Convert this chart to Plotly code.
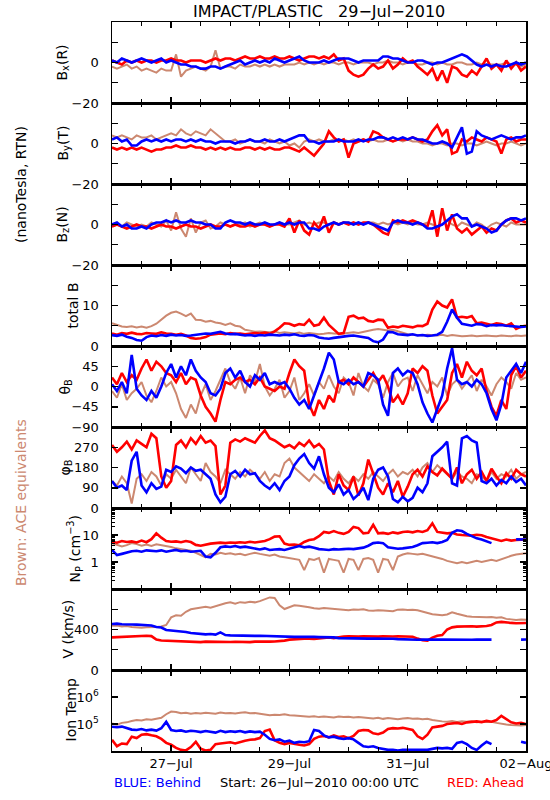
import plotly.graph_objects as go
import pandas as pd

# ---------------- time axis (2-hour samples, 26-Jul-2010 00:00 .. 02-Aug-2010 00:00)
HOURS = list(range(0, 169, 2))
START = pd.Timestamp("2010-07-26 00:00")
END = pd.Timestamp("2010-08-02 00:00")
times = [START + pd.Timedelta(hours=h) for h in HOURS]

# ---------------- Bx (R), nT
bx_behind = [1, 0, 2, 1, 0, 1, 2, 1, 0, 1, 2, 0,
             1, 0, -1, -1, -2, -2, -3, -3, -2, -2, -3, -2,
             -1, 0, 1, -1, 0, 1, 0, 1, 0, 2, 1, 0,
             1, 2, 3, 1, 0, 0, 0, 1, 0, 1, 2, 2,
             2, 1, 0, 1, 1, 1, 1, 3, 3, 2, 2, 1,
             0, 0, 1, 1, 0, -1, 0, 0, 1, 2, 3, 4,
             3, 1, -1, -2, -1, -2, -1, -2, -2, -1, 0, -1,
             0]
bx_ahead = [1, 0, -1, 1, 0, 1, 0, 1, 1, 0, 1, 1,
            2, 1, 1, 0, 1, 1, 1, 0, 1, 2, 1, 2,
            2, 1, 2, 3, 2, 2, 3, 2, 2, 3, 2, 2,
            3, 2, 1, 2, 3, 3, 2, 3, 2, 4, 1, 2,
            -4, -6, -7, -6, -3, -1, -3, -2, 1, -3, -1, 2,
            0, 1, -2, -4, -6, -3, -9, -4, -10, -2, -3, -6,
            -7, -4, -6, -2, 2, -3, -1, -4, 1, -3, 0, -4,
            -2]
bx_ace = [-2, -3, -2, -1, -3, -2, -4, -3, -4, -5, -3, -4,
          -4, 4, -7, -4, -3, -2, -3, -4, -2, 6, -3, -2,
          -2, -3, -1, -2, -2, -1, -2, -1, -2, -1, -2, -1,
          -1, -1, 0, -1, 0, -1, 0, -1, 0, 0, -1, 0,
          0, -1, 0, 0, 0, -1, 0, 0, 1, 0, 0, -1,
          0, 0, -1, -1, 0, 0, -1, 0, -1, -1, 0, 0,
          -1, -1, 0, -1, -1, -1, -1, -1, 0, -1, -1, -2,
          -1]

# ---------------- By (T), nT
by_behind = [2, 3, 1, 2, -1, -1, 1, 2, 1, 2, 1, 2,
             1, 2, 2, 1, 2, 1, 2, 1, 1, 0, 1, 1,
             1, 0, 1, 1, 2, 1, 1, 2, 1, 1, 2, 1,
             2, 3, 4, 4, 1, 1, 0, 1, 1, 1, 2, 1,
             1, 1, 2, 1, 2, 2, 3, 3, 2, 3, 2, 3,
             2, 3, 2, 2, 1, 0, 0, 1, 0, -2, 3, 8,
             -5, -4, 6, 4, 3, 2, 3, 4, 3, 2, 3, 3,
             4]
by_ahead = [-2, -3, -2, -3, -2, -3, -2, -3, -4, -3, -3, -2,
            -2, -1, -2, -2, -1, -2, -2, -3, -2, -3, -2, -3,
            -2, -3, -3, -2, -2, -3, -2, -3, -2, -3, -3, -2,
            -2, -3, -4, -2, -4, -6, -3, 0, 6, 3, 1, 2,
            -7, 0, 1, 2, 1, 6, 5, 3, 2, 1, 2, 2,
            2, 3, 2, 1, 2, 6, 9, 4, 7, -5, -4, 2,
            1, 3, 2, 1, 3, 2, 1, -5, 2, 3, 1, 2,
            2]
by_ace = [4, 3, 4, 3, 2, 4, 3, 3, 4, 2, 3, 4,
          5, 4, 7, 5, 4, 6, 5, 4, 7, 5, 3, 1,
          1, 2, 0, 1, 2, 1, 1, 0, 2, 1, 0, 1,
          -1, 0, -2, 1, 2, 1, 2, 1, 1, 2, 1, 2,
          1, 2, 1, 2, 1, 2, 1, 1, 2, 1, 2, 1,
          2, 1, 1, 0, 0, -1, 0, 0, -1, 0, 0, -1,
          0, 0, -1, 0, 1, 0, -1, 0, 0, 1, 0, -1,
          0]

# ---------------- Bz (N), nT
bz_behind = [0, 1, -1, 0, -2, -2, -1, -2, 0, 1, 1, 2,
             1, 2, 1, 1, 2, 1, 1, 0, 0, -2, -2, 1,
             2, 1, 1, 0, 1, 0, 0, 1, 0, 0, 1, 0,
             1, 0, 1, 1, -2, -2, -3, -1, 0, 1, 0, 1,
             1, 0, 1, 0, 1, 0, -1, -2, -3, 1, 2, 1,
             1, 0, 1, 0, -2, -2, -1, 0, 2, 4, 5, 3,
             3, -1, 0, -1, -2, -4, -3, 0, 2, 3, 3, 2,
             3]
bz_ahead = [-1, 0, -1, -2, -1, 0, -1, -1, -2, -1, 0, -1,
            -1, -2, -1, 0, -1, -1, -2, -1, 0, -1, -1, 0,
            -1, 0, -1, -1, 0, -1, 0, 0, -1, 0, 0, -1,
            3, -4, 2, -3, -5, 1, -2, 4, -4, 1, 0, 1,
            0, 1, 0, 1, 1, 0, -2, -4, -5, 2, 1, 2,
            1, 2, 1, 0, -1, 7, -6, 8, -3, 5, -2, -4,
            -2, -5, -3, -1, -4, -2, -3, 0, 2, 3, 1, 2,
            1]
bz_ace = [-1, 0, -1, 1, 0, -1, 0, -1, 1, 0, -1, 2,
          -3, 6, -2, -6, 3, -4, 1, 2, -2, -1, 1, 0,
          -1, 0, 0, 1, -1, 0, 1, 0, -1, 0, 1, 0,
          0, 1, 2, 0, 1, 0, 1, 1, 0, 1, 0, 1,
          1, 0, 1, 0, 1, 1, 0, 1, 0, 1, 0, 1,
          0, 1, 0, 0, 1, 0, -1, 0, 2, 0, -1, 1,
          0, -1, 1, 0, -2, 0, 1, 0, -1, 1, 0, 0,
          0]

# ---------------- total B, nT
bt_behind = [2.7, 2.5, 2.8, 2.3, 2.0, 1.5, 1.3, 2.2, 2.6, 2.4, 2.7, 2.5,
             2.8, 2.6, 2.7, 2.5, 2.6, 2.8, 2.9, 3.1, 3.0, 3.2, 3.5, 3.1,
             2.9, 3.0, 2.8, 2.6, 2.7, 2.5, 2.7, 2.6, 2.8, 2.7, 2.6, 2.8,
             2.7, 2.9, 2.6, 2.5, 2.7, 2.6, 2.1, 1.9, 1.8, 2.0, 2.2, 2.4,
             2.5, 2.6, 2.4, 2.3, 2.0, 1.2, 0.9, 1.6, 3.5, 3.4, 2.9, 2.8,
             2.7, 2.9, 2.6, 2.7, 2.5, 2.6, 2.8, 3.5, 6.0, 9.0, 7.0, 5.5,
             5.2, 5.0, 5.4, 5.3, 4.9, 5.2, 5.1, 5.2, 5.0, 4.9, 4.8, 4.7,
             4.8]
bt_ahead = [3.1, 2.8, 3.2, 3.0, 3.3, 3.0, 2.9, 3.2, 3.1, 3.0, 3.4, 3.1,
            3.0, 2.8, 3.0, 2.6, 2.0, 1.8, 1.9, 2.2, 2.8, 3.0, 3.1, 2.9,
            3.2, 3.0, 3.1, 2.9, 3.0, 3.2, 3.1, 3.3, 3.0, 3.6, 4.5, 5.6,
            5.5, 5.0, 5.4, 5.2, 6.5, 5.0, 5.3, 7.0, 5.2, 4.0, 3.0, 3.2,
            7.2, 7.5, 6.8, 7.0, 6.2, 6.0, 6.5, 6.4, 4.5, 4.8, 4.6, 5.0,
            4.8, 4.6, 5.0, 4.9, 5.5, 9.0, 11.0, 10.0, 9.5, 11.5, 7.0, 7.2,
            7.0, 7.4, 5.6, 5.8, 5.5, 5.2, 5.6, 5.4, 5.0, 5.6, 4.2, 4.8,
            5.0]
bt_ace = [5.6, 5.2, 4.8, 4.7, 4.9, 4.6, 4.8, 4.5, 4.9, 5.5, 6.5, 7.5,
          8.2, 8.5, 8.0, 7.4, 8.0, 6.5, 6.4, 6.0, 6.2, 5.8, 5.6, 5.2,
          5.6, 5.0, 4.8, 4.0, 3.8, 3.5, 3.6, 3.5, 3.4, 3.6, 3.2, 3.4,
          3.2, 3.1, 3.3, 3.0, 3.2, 3.1, 2.9, 3.0, 3.2, 3.1, 3.0, 3.1,
          3.2, 3.4, 3.2, 3.5, 3.8, 4.0, 4.2, 4.0, 3.8, 4.0, 3.6, 3.2,
          2.9, 2.8, 2.7, 2.6, 2.8, 2.7, 2.6, 2.8, 2.5, 2.7, 2.6, 2.4,
          2.5, 2.6, 2.4, 2.5, 2.6, 2.5, 2.4, 2.6, 2.5, 2.4, 2.6, 2.5,
          2.6]

# ---------------- theta_B, degrees
th_behind = [5, -10, 10, -15, 70, -5, -20, -30, -10, -25, 0, 30,
             50, 20, 45, 25, 60, 35, 20, 10, -15, -20, -5, 30,
             40, 20, 35, 10, 0, 25, 15, 30, 5, 10, 5, 10,
             -5, -25, -40, -30, -50, -20, 10, 40, 75, 60, 10, 5,
             15, 5, 10, 0, 30, 25, 15, -40, -65, 30, 40, 25,
             35, 30, 5, -35, -60, -80, -50, -20, 40, 85, 15, 5,
             10, 0, 15, 5, -15, -50, -75, -40, 20, 35, 50, 30,
             55]
th_ahead = [20, 5, 30, 10, 25, 15, 40, 60, 35, 55, 45, 30,
            25, 10, 30, 5, 20, 15, -20, -45, -60, -78, -30, 10,
            5, 15, 20, 10, 15, 5, 20, 0, -5, -10, 0, -5,
            30, 60, 45, 35, -40, -65, -30, -50, -20, -35, 10, 15,
            5, 20, 10, 0, 15, 30, 10, 25, 0, -35, -20, -40,
            -15, 40, 30, 45, 35, -20, -60, -45, -30, 30, 50, 20,
            55, 35, 25, 40, -10, -45, -65, -30, -50, 25, 45, 20,
            35]
th_ace = [-10, -25, 5, -30, -15, -5, 10, -20, -35, -10, 20, 0,
          10, -15, -50, -70, -40, -60, -20, 5, -30, -10, 15, 40,
          10, -5, 20, -15, 25, 10, 50, 0, -20, -5, 15, -25,
          -10, 20, -30, -15, 5, -20, 10, -5, 25, 0, -15, 20,
          10, -20, 30, 0, -10, 15, 5, -25, 10, 30, 0, 15,
          20, -10, 25, 5, -15, 10, 0, 20, -20, 5, 15, -5,
          10, 25, -10, 15, 0, -20, 5, 20, 10, -5, 30, 15,
          20]

# ---------------- phi_B, degrees
ph_behind = [120, 90, 100, 80, 210, 250, 100, 70, 110, 85, 95, 170,
             160, 185, 175, 155, 180, 165, 170, 150, 130, 60, 25, 50,
             150, 165, 140, 170, 150, 155, 120, 100, 85, 110, 80, 120,
             140, 190, 220, 240, 200, 175, 230, 150, 90, 70, 105, 60,
             80, 40, 60, 90, 35, 130, 170, 180, 140, 40, 25, 50,
             30, 45, 90, 70, 110, 230, 250, 270, 295, 110, 100, 310,
             320, 300, 290, 120, 110, 130, 100, 125, 110, 140, 115, 130,
             100]
ph_ahead = [280, 250, 270, 295, 260, 300, 285, 270, 330, 310, 140, 90,
            120, 280, 300, 270, 310, 285, 320, 290, 300, 275, 60, 100,
            290, 305, 295, 310, 300, 290, 320, 345, 310, 300, 285, 270,
            280, 265, 290, 275, 300, 270, 285, 260, 120, 60, 150, 100,
            80, 140, 55, 110, 215, 150, 90, 60, 110, 70, 120, 50,
            95, 150, 170, 140, 185, 160, 145, 175, 150, 130, 180, 110,
            150, 170, 130, 160, 120, 175, 140, 110, 155, 130, 170, 150,
            140]
ph_ace = [120, 100, 140, 110, 20, 130, 150, 120, 160, 140, 100, 150,
          130, 170, 140, 110, 180, 150, 120, 200, 160, 140, 110, 170,
          150, 130, 160, 140, 170, 150, 130, 160, 120, 150, 140, 200,
          220, 180, 160, 140, 120, 150, 130, 110, 140, 120, 160, 130,
          110, 140, 120, 150, 130, 160, 140, 120, 150, 170, 140, 160,
          150, 170, 140, 180, 200, 160, 190, 170, 150, 130, 160, 140,
          130, 110, 150, 140, 120, 160, 130, 150, 140, 170, 130, 150,
          160]

# ---------------- proton density, cm^-3
np_behind = [2.8, 1.8, 2.0, 2.3, 2.5, 2.6, 2.4, 2.7, 2.6, 2.5, 2.7, 2.4,
             2.6, 2.8, 2.5, 2.6, 2.4, 2.5, 2.6, 1.6, 1.5, 2.2, 3.5, 3.8,
             3.6, 3.9, 3.5, 3.7, 3.4, 3.0, 2.9, 3.2, 2.8, 2.9, 3.0, 2.8,
             3.1, 3.6, 3.9, 3.5, 3.7, 3.4, 3.0, 2.9, 2.8, 3.0, 2.9, 3.0,
             3.1, 3.0, 3.2, 3.4, 4.0, 5.0, 5.3, 5.0, 3.5, 3.3, 3.1, 3.2,
             3.4, 3.6, 4.2, 5.0, 5.2, 5.4, 5.0, 5.5, 6.5, 12.0, 15.0, 14.0,
             11.0, 9.0, 7.5, 6.8, 6.0, 5.0, None, None, None, None, 6.9, 7.0,
             6.8]
np_ahead = [5.6, 5.2, 6.0, 5.5, 5.8, 5.3, 6.2, 5.4, 7.0, 11.5, 8.0, 6.0,
            5.6, 5.8, 5.4, 6.0, 5.5, 4.3, 4.0, 4.5, 4.8, 5.0, 5.2, 5.0,
            5.3, 5.1, 5.4, 5.2, 5.6, 5.3, 5.5, 6.0, 7.0, 8.7, 9.0, 4.8,
            4.3, 4.4, 4.2, 5.5, 6.5, 7.0, 9.0, 13.0, 12.0, 14.0, 12.0, 11.0,
            13.0, 20.0, 18.0, 11.5, 12.0, 24.0, 11.5, 12.0, 11.0, 12.5, 11.5, 13.0,
            13.5, 12.5, 14.0, 13.0, 15.0, 27.0, 13.0, 12.0, 11.5, 12.0, 10.5, 10.0,
            10.0, 9.5, 10.2, 9.8, 8.5, 7.5, 6.5, 6.0, 6.8, 6.2, 6.5, 6.7,
            6.8]
np_ace = [5.0, 4.5, 3.8, 4.2, 5.0, 4.6, 4.0, 4.4, 3.9, 4.5, 4.2, 4.0,
          3.6, 3.2, 3.0, 2.8, 2.6, 2.2, 1.8, 1.5, 2.0, 1.9, 2.2, 2.0,
          2.1, 1.9, 2.0, 1.8, 2.0, 2.2, 2.0, 1.8, 1.7, 1.9, 1.6, 1.5,
          1.4, 1.3, 1.2, 0.5, 1.3, 1.2, 1.4, 0.4, 1.3, 1.2, 1.1, 0.4,
          1.3, 1.2, 0.5, 1.3, 1.4, 1.2, 0.4, 1.3, 1.2, 0.5, 1.6, 1.9,
          2.1, 2.0, 1.9, 2.0, 1.8, 1.6, 1.4, 1.3, 1.1, 1.0, 0.9, 1.0,
          0.9, 1.0, 1.1, 1.0, 1.1, 1.2, 1.1, 1.3, 1.5, 1.7, 1.9, 2.0,
          2.1]

# ---------------- bulk speed, km/s
v_behind = [455, 458, 452, 454, 450, 448, 446, 442, 440, 425, 420, 395,
            390, 388, 385, 375, 365, 360, 355, 352, 355, 350, 372, 345,
            342, 340, 341, 338, 339, 337, 338, 336, 335, 330, 329, 328,
            330, 327, 329, 326, 328, 327, 325, 326, 324, 322, 315, 313,
            312, 313, 311, 312, 310, 311, 312, 310, 309, 308, 305, 302,
            300, 301, 299, 300, 298, 300, 301, 300, 299, 300, 301, 300,
            300, 299, 300, 301, 300, 300, None, None, None, None, None, 300,
            301]
v_ahead = [322, 325, 328, 330, 335, 339, 340, 338, 335, 300, 292, 290,
           288, 290, 287, 282, 278, 280, 275, 280, 278, 276, 280, 278,
           277, 279, 276, 278, 275, 280, 278, 277, 280, 282, 285, 290,
           300, 305, 306, 308, 310, 306, 312, 320, 322, 315, 325, 330,
           332, 328, 330, 334, 331, 333, 330, 332, 335, 331, 333, 330,
           332, 328, 310, 295, 290, 320, 339, 345, 400, 421, 428, 431,
           430, 432, 428, 431, 435, 445, 470, 475, 468, 465, 462, 466,
           464]
v_ace = [437, 440, 430, 435, 425, 421, 418, 422, 420, 425, 430, 445,
         520, 540, 536, 575, 600, 610, 618, 625, 615, 630, 650, 660,
         668, 655, 670, 665, 675, 668, 680, 700, 717, 712, 640, 602,
         625, 640, 635, 630, 620, 610, 605, 612, 608, 600, 598, 595,
         590, 597, 594, 600, 588, 585, 590, 587, 584, 580, 596, 598,
         592, 595, 590, 575, 560, 550, 545, 540, 548, 570, 555, 540,
         530, 525, 522, 518, 520, 523, 515, 520, 505, 500, 495, 498,
         497]

# ---------------- ion temperature, K
t_behind = [79e3, 76e3, 80e3, 72e3, 62e3, 60e3, 65e3, 58e3, 62e3, 57e3, 70e3, 120e3,
            60e3, 55e3, 58e3, 52e3, 56e3, 54e3, 50e3, 55e3, 52e3, 48e3, 56e3, 50e3,
            54e3, 51e3, 55e3, 49e3, 53e3, 50e3, 52e3, 40e3, 28e3, 25e3, 27e3, 22e3,
            24e3, 20e3, 22e3, 21e3, 23e3, 60e3, 55e3, 38e3, 32e3, 34e3, 30e3, 28e3,
            30e3, 27e3, 20e3, 15e3, 14e3, 15e3, 13e3, 12e3, 11e3, 11e3, 10.5e3, 11e3,
            11e3, 10.5e3, 11e3, 10.8e3, 11e3, 12e3, 13e3, 12.5e3, 13e3, 12e3, 20e3, 22e3,
            18e3, 13e3, 11e3, 16e3, 22e3, 18e3, None, None, None, None, None, 22e3,
            20e3]
t_ahead = [26e3, 15e3, 19e3, 18e3, 34e3, 30e3, 40e3, 42e3, 38e3, 35e3, 28e3, 20e3,
           17e3, 13e3, 11e3, 10.5e3, 14e3, 22e3, 12e3, 10.5e3, 11e3, 18e3, 19e3, 20e3,
           21e3, 19e3, 22e3, 24e3, 26e3, 27e3, 30e3, 55e3, 62e3, 25e3, 20e3, 18e3,
           20e3, 19e3, 17e3, 16e3, 18e3, 28e3, 34e3, 36e3, 32e3, 38e3, 33e3, 35e3,
           30e3, 36e3, 55e3, 60e3, 58e3, 45e3, 42e3, 48e3, 65e3, 70e3, 68e3, 72e3,
           66e3, 60e3, 35e3, 28e3, 40e3, 75e3, 80e3, 85e3, 100e3, 105e3, 110e3, 100e3,
           115e3, 120e3, 125e3, 118e3, 130e3, 122e3, 140e3, 200e3, 150e3, 115e3, 105e3, 110e3,
           100e3]
t_ace = [105e3, 95e3, 110e3, 115e3, 130e3, 140e3, 135e3, 150e3, 145e3, 160e3, 170e3, 230e3,
         290e3, 280e3, 250e3, 260e3, 240e3, 255e3, 245e3, 260e3, 250e3, 240e3, 265e3, 250e3,
         255e3, 245e3, 260e3, 270e3, 250e3, 255e3, 240e3, 225e3, 210e3, 220e3, 215e3, 230e3,
         210e3, 205e3, 200e3, 190e3, 185e3, 195e3, 180e3, 190e3, 185e3, 175e3, 190e3, 180e3,
         185e3, 175e3, 180e3, 170e3, 165e3, 160e3, 170e3, 155e3, 165e3, 160e3, 150e3, 160e3,
         165e3, 155e3, 160e3, 150e3, 155e3, 140e3, 130e3, 125e3, 120e3, 128e3, 118e3, 125e3,
         120e3, 125e3, 115e3, 122e3, 118e3, 120e3, 110e3, 100e3, 95e3, 92e3, 90e3, 88e3,
         92e3]

# ---------------- axis ticks: labelled (major) and unlabelled (minor) positions
B_TICKS, B_TEXT, B_MINOR = [-20, 0], ["\u221220", "0"], [-10, 10]
BT_TICKS, BT_TEXT, BT_MINOR = [0, 10], ["0", "10"], [5, 15]
TH_TICKS, TH_TEXT, TH_MINOR = [-90, -45, 0, 45], ["\u221290", "\u221245", "0", "45"], []
PH_TICKS, PH_TEXT, PH_MINOR = [0, 90, 180, 270], ["0", "90", "180", "270"], []
NP_TICKS, NP_TEXT = [1, 10], ["1", "10"]
NP_MINOR = [m * d for d in (0.1, 1, 10) for m in range(2, 10)]
V_TICKS, V_TEXT, V_MINOR = [0, 400], ["0", "400"], [200, 600]
T_TICKS, T_TEXT, T_MINOR = [1e5, 1e6], ["10<sup>5</sup>", "10<sup>6</sup>"], []
X_TICKS = ["2010-07-27", "2010-07-29", "2010-07-31", "2010-08-02"]

BLUE = "#0000ff"
RED = "#ff0000"
BROWN = "rgb(204,136,112)"
FONT = "DejaVu Sans"

panels = [
    dict(title="B<sub>x</sub>(R)", tx=62, s=(bx_ace, bx_ahead, bx_behind), typ="linear", rng=[-20, 20], tv=B_TICKS, tt=B_TEXT, mv=B_MINOR, ml=6),
    dict(title="B<sub>y</sub>(T)", tx=63, s=(by_ace, by_ahead, by_behind), typ="linear", rng=[-20, 20], tv=B_TICKS, tt=B_TEXT, mv=B_MINOR, ml=6),
    dict(title="B<sub>z</sub>(N)", tx=63, s=(bz_ace, bz_ahead, bz_behind), typ="linear", rng=[-20, 20], tv=B_TICKS, tt=B_TEXT, mv=B_MINOR, ml=6),
    dict(title="total B", tx=73, s=(bt_ace, bt_ahead, bt_behind), typ="linear", rng=[0, 20], tv=BT_TICKS, tt=BT_TEXT, mv=BT_MINOR, ml=6),
    dict(title="\u03b8<sub>B</sub>", tx=65, s=(th_ace, th_ahead, th_behind), typ="linear", rng=[-90, 90], tv=TH_TICKS, tt=TH_TEXT, mv=TH_MINOR, ml=6),
    dict(title="\u03c6<sub>B</sub>", tx=65, s=(ph_ace, ph_ahead, ph_behind), typ="linear", rng=[0, 360], tv=PH_TICKS, tt=PH_TEXT, mv=PH_MINOR, ml=6),
    dict(title="N<sub>P</sub> (cm<sup>\u22123</sup>)", tx=75, s=(np_ace, np_ahead, np_behind), typ="log", rng=[-1, 2], tv=NP_TICKS, tt=NP_TEXT, mv=NP_MINOR, ml=3),
    dict(title="V (km/s)", tx=67, s=(v_ace, v_ahead, v_behind), typ="linear", rng=[0, 800], tv=V_TICKS, tt=V_TEXT, mv=V_MINOR, ml=6),
    dict(title="Ion Temp", tx=70, s=(t_ace, t_ahead, t_behind), typ="log", rng=[4, 7], tv=T_TICKS, tt=T_TEXT, mv=T_MINOR, ml=6),
]

for p in panels:
    for arr in p["s"]:
        assert len(arr) == len(HOURS), (p["title"], len(arr))

W, H = 550, 800
ML, MR, MT, MB = 112, 24, 22, 49
PW = W - ML - MR
PH = H - MT - MB


def px_to_paper_x(px):
    return (px - ML) / PW


def py_to_paper_y(py):
    return 1 - (py - MT) / PH


fig = go.Figure()
n = len(panels)
annotations = []
for k, p in enumerate(panels):
    idx = "" if k == 0 else str(k + 1)
    xa, ya = "x" + idx, "y" + idx
    for series, color, w in zip(p["s"], (BROWN, RED, BLUE), (2.0, 2.6, 2.6)):
        fig.add_trace(go.Scatter(x=times, y=series, mode="lines",
                                 line=dict(color=color, width=w),
                                 xaxis=xa, yaxis=ya, showlegend=False,
                                 connectgaps=False, hoverinfo="skip"))
    top = 1 - k / n
    bot = 1 - (k + 1) / n
    xaxis = dict(
        domain=[0, 1], anchor=ya, type="date", range=[START, END],
        automargin=False,
        showline=True, linecolor="black", linewidth=1.5, mirror="allticks",
        ticks="inside", ticklen=6, tickwidth=1.5, tickcolor="black",
        tickvals=X_TICKS, tickformat="%d\u2212%b",
        showticklabels=(k == n - 1), ticklabeloverflow="allow",
        tickfont=dict(family=FONT, size=13, color="black"),
        showgrid=False, zeroline=False,
        minor=dict(ticks="inside", ticklen=4, tickwidth=1, tickcolor="black",
                   dtick=12 * 3600 * 1000, tick0=START, showgrid=False),
    )
    if k != 0:
        xaxis["matches"] = "x"
    yaxis = dict(
        domain=[bot, top], anchor=xa, type=p["typ"], range=p["rng"],
        automargin=False,
        showline=True, linecolor="black", linewidth=1.5, mirror="allticks",
        ticks="inside", ticklen=6, tickwidth=1.5, tickcolor="black",
        tickvals=p["tv"], ticktext=p["tt"], ticklabelstandoff=9,
        tickfont=dict(family=FONT, size=13, color="black"),
        showgrid=False, zeroline=False,
    )
    if p["mv"]:
        yaxis["minor"] = dict(ticks="inside", ticklen=p["ml"], tickwidth=1.2,
                              tickcolor="black", tickvals=p["mv"], showgrid=False)
    fig.update_layout(**{"xaxis" + idx: xaxis, "yaxis" + idx: yaxis})
    annotations.append(dict(text=p["title"], textangle=-90, xref="paper", yref="paper",
                            x=px_to_paper_x(p["tx"]), y=(top + bot) / 2,
                            xanchor="center", yanchor="middle", showarrow=False,
                            font=dict(family=FONT, size=14, color="black")))

annotations += [
    dict(text="IMPACT/PLASTIC   29\u2212Jul\u22122010", xref="paper", yref="paper",
         x=0.5, y=py_to_paper_y(12), xanchor="center", yanchor="middle", showarrow=False,
         font=dict(family=FONT, size=16, color="black")),
    dict(text="(nanoTesla, RTN)", textangle=-90, xref="paper", yref="paper",
         x=px_to_paper_x(21), y=py_to_paper_y(185), xanchor="center", yanchor="middle",
         showarrow=False, font=dict(family=FONT, size=14, color="black")),
    dict(text="Brown: ACE equivalents", textangle=-90, xref="paper", yref="paper",
         x=px_to_paper_x(21), y=py_to_paper_y(503), xanchor="center", yanchor="middle",
         showarrow=False, font=dict(family=FONT, size=14, color=BROWN)),
    dict(text="BLUE: Behind", xref="paper", yref="paper",
         x=0, y=py_to_paper_y(782), xanchor="left", yanchor="middle", showarrow=False,
         font=dict(family=FONT, size=13, color=BLUE)),
    dict(text="Start: 26\u2212Jul\u22122010 00:00 UTC", xref="paper", yref="paper",
         x=px_to_paper_x(319), y=py_to_paper_y(782), xanchor="center", yanchor="middle",
         showarrow=False, font=dict(family=FONT, size=13, color="black")),
    dict(text="RED: Ahead", xref="paper", yref="paper",
         x=1, y=py_to_paper_y(782), xanchor="right", yanchor="middle", showarrow=False,
         font=dict(family=FONT, size=13, color=RED)),
]

fig.update_layout(
    width=W, height=H,
    margin=dict(l=ML, r=MR, t=MT, b=MB, pad=0, autoexpand=False),
    paper_bgcolor="white", plot_bgcolor="white",
    font=dict(family=FONT, size=14, color="black"),
    annotations=annotations,
    showlegend=False,
)

# remove the browser's default 8px page margin and scrollbars so the 550x800 figure fills the window
fig.write_html(
    "out.html",
    config={"displayModeBar": False, "staticPlot": True},
    post_script=("document.documentElement.style.overflow='hidden';"
                 "document.body.style.margin='0';document.body.style.overflow='hidden';"),
)
